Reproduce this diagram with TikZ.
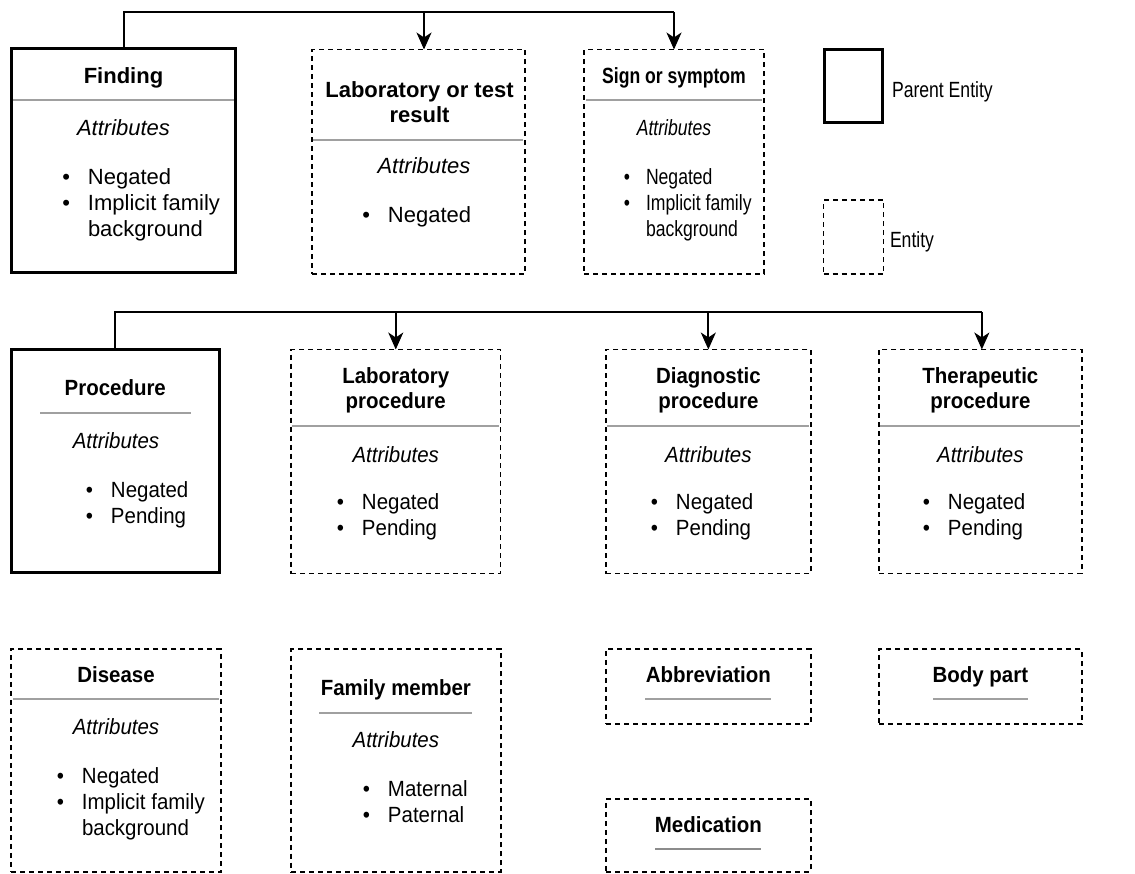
\documentclass[tikz,border=0pt]{standalone}
\usepackage{fontspec}
\setmainfont{Liberation Sans}
\newfontfamily\wideF{Liberation Sans}
\newfontfamily\midF{Liberation Sans}[FakeStretch=0.93]
\newfontfamily\narF{Liberation Sans}[FakeStretch=0.8]
\usetikzlibrary{arrows.meta}

\definecolor{sepgray}{RGB}{160,160,160}
\definecolor{sepdark}{RGB}{140,140,140}

% bullet item: the dot hangs to the left of the item text
\newcommand\itm[2][18pt]{\llap{\textbullet\hspace{#1}}#2}

\begin{document}
\begin{tikzpicture}[x=1pt,y=-1pt,
  ent/.style={draw, rectangle, line width=1.8pt, dash pattern=on 5pt off 4pt,
              inner sep=0pt, outer sep=0pt, anchor=north west},
  parent/.style={draw, rectangle, line width=3pt, inner sep=0pt, outer sep=0pt,
                 anchor=north west},
  sep/.style={draw=sepgray, line width=1.8pt},
  conn/.style={draw, line width=2pt},
  arr/.style={conn, -{Stealth[length=17pt,width=15pt,inset=5pt]}},
  txt/.style={inner sep=0pt, outer sep=0pt, anchor=base, text=black},
  ttl/.style={txt, font=#1\fontsize{22}{25}\selectfont\bfseries},
  att/.style={txt, font=#1\fontsize{22}{26}\selectfont\itshape},
  lst/.style={txt, anchor=base west, font=#1\fontsize{22}{26}\selectfont},
  key/.style={txt, anchor=base west, font=\narF\fontsize{22}{26}\selectfont},
]
\path[fill=white] (0,0) rectangle (1135,873);
\useasboundingbox (0,0) rectangle (1135,873);

% ---------- first row: findings ----------
\node[parent, minimum width=224pt, minimum height=224pt] (finding) at (11.5,48.5) {};
\node[ent, minimum width=213pt, minimum height=224.5pt] (labres) at (312,49.5) {};
\node[ent, minimum width=180pt, minimum height=224.5pt] (sign) at (584,49.5) {};

\node[ttl=\wideF] (finding-t) at (finding.north |- 0,83) {Finding};
\draw[sep] (13,100) -- (234,100);
\node[att=\wideF] (finding-a) at (finding.north |- 0,135) {Attributes};
\node[lst=\wideF] (finding-l) at (88,184)
  {\begin{tabular}[t]{@{}l@{}}\itm{Negated}\\\itm{Implicit family}\\background\end{tabular}};

\node[ttl=\wideF] (labres-t) at (419.5,97)
  {\begin{tabular}[t]{@{}c@{}}Laboratory or test\\result\end{tabular}};
\draw[sep] (313,140) -- (523,140);
\node[att=\wideF] (labres-a) at (424,173) {Attributes};
\node[lst=\wideF] (labres-l) at (388,222)
  {\begin{tabular}[t]{@{}l@{}}\itm{Negated}\end{tabular}};

\node[ttl=\narF] (sign-t) at (sign.north |- 0,83) {Sign or symptom};
\draw[sep] (586,100) -- (762,100);
\node[att=\narF] (sign-a) at (sign.north |- 0,135) {Attributes};
\node[lst=\narF] (sign-l) at (646,184)
  {\begin{tabular}[t]{@{}l@{}}\itm[16pt]{Negated}\\\itm[16pt]{Implicit family}\\background\end{tabular}};

% ---------- key ----------
\node[parent, minimum width=58pt, minimum height=73pt] (keyparent) at (824,49.5) {};
\node[key] (keyparent-t) at (892,97) {Parent Entity};
\node[ent, minimum width=60pt, minimum height=74pt] (keyent) at (823.5,200) {};
\node[key] (keyent-t) at (890,247) {Entity};

% ---------- second row: procedures ----------
\node[parent, minimum width=208.5pt, minimum height=223pt] (proc) at (11,349.5) {};
\node[ent, minimum width=209.5pt, minimum height=224pt] (labproc) at (291,349.5) {};
\node[ent, minimum width=204.7pt, minimum height=224pt] (diag) at (606,349.5) {};
\node[ent, minimum width=202.7pt, minimum height=224pt] (ther) at (879,349.5) {};

\node[ttl=\midF] (proc-t) at (proc.north |- 0,395) {Procedure};
\draw[sep] (40,413) -- (191,413);
\node[att=\midF] (proc-a) at (116,448) {Attributes};
\node[lst=\midF] (proc-l) at (111,497)
  {\begin{tabular}[t]{@{}l@{}}\itm{Negated}\\\itm{Pending}\end{tabular}};

\node[ttl=\midF] (labproc-t) at (labproc.north |- 0,383)
  {\begin{tabular}[t]{@{}c@{}}Laboratory\\procedure\end{tabular}};
\draw[sep] (292,426) -- (499,426);
\node[att=\midF] (labproc-a) at (labproc.north |- 0,462) {Attributes};
\node[lst=\midF] (labproc-l) at (362,509)
  {\begin{tabular}[t]{@{}l@{}}\itm{Negated}\\\itm{Pending}\end{tabular}};

\node[ttl=\midF] (diag-t) at (diag.north |- 0,383)
  {\begin{tabular}[t]{@{}c@{}}Diagnostic\\procedure\end{tabular}};
\draw[sep] (607,426) -- (809,426);
\node[att=\midF] (diag-a) at (diag.north |- 0,462) {Attributes};
\node[lst=\midF] (diag-l) at (676,509)
  {\begin{tabular}[t]{@{}l@{}}\itm{Negated}\\\itm{Pending}\end{tabular}};

\node[ttl=\midF] (ther-t) at (ther.north |- 0,383)
  {\begin{tabular}[t]{@{}c@{}}Therapeutic\\procedure\end{tabular}};
\draw[sep] (880,426) -- (1080,426);
\node[att=\midF] (ther-a) at (ther.north |- 0,462) {Attributes};
\node[lst=\midF] (ther-l) at (948,509)
  {\begin{tabular}[t]{@{}l@{}}\itm{Negated}\\\itm{Pending}\end{tabular}};

% ---------- third row: other entities ----------
\node[ent, minimum width=210pt, minimum height=222.4pt] (disease) at (11,649.3) {};
\node[ent, minimum width=209.7pt, minimum height=222.4pt] (family) at (291,649.3) {};
\node[ent, minimum width=204.7pt, minimum height=75pt] (abbr) at (606,649.3) {};
\node[ent, minimum width=202.7pt, minimum height=75pt] (body) at (879,649.3) {};
\node[ent, minimum width=204.7pt, minimum height=72.7pt] (med) at (606,799) {};

\node[ttl=\midF] (disease-t) at (disease.north |- 0,682) {Disease};
\draw[sep] (13,699) -- (219,699);
\node[att=\midF] (disease-a) at (disease.north |- 0,734) {Attributes};
\node[lst=\midF] (disease-l) at (82,783)
  {\begin{tabular}[t]{@{}l@{}}\itm{Negated}\\\itm{Implicit family}\\background\end{tabular}};

\node[ttl=\midF] (family-t) at (family.north |- 0,695) {Family member};
\draw[sep] (319,713) -- (472,713);
\node[att=\midF] (family-a) at (family.north |- 0,747) {Attributes};
\node[lst=\midF] (family-l) at (388,796)
  {\begin{tabular}[t]{@{}l@{}}\itm{Maternal}\\\itm{Paternal}\end{tabular}};

\node[ttl=\midF] (abbr-t) at (abbr.north |- 0,682) {Abbreviation};
\draw[sep] (645,699) -- (771,699);

\node[ttl=\midF] (body-t) at (body.north |- 0,682) {Body part};
\draw[sep] (933,699) -- (1028,699);

\node[ttl=\midF] (med-t) at (med.north |- 0,832) {Medication};
\draw[sep, draw=sepdark, line width=2.6pt] (655,849) -- (761,849);

% ---------- hierarchy connectors ----------
\coordinate (bus1) at (0,12);
\coordinate (labin) at ([xshift=5.5pt]labres.north);
\draw[conn] (finding.north) |- (sign.north |- bus1);
\draw[arr] (labin |- bus1) -- (labin);
\draw[arr] (sign.north |- bus1) -- (sign.north);

\coordinate (bus2) at (0,312);
\coordinate (therin) at ([xshift=1.5pt]ther.north);
\draw[conn] (proc.north) |- (therin |- bus2);
\draw[arr] (labproc.north |- bus2) -- (labproc.north);
\draw[arr] (diag.north |- bus2) -- (diag.north);
\draw[arr] (therin |- bus2) -- (therin);
\end{tikzpicture}
\end{document}
